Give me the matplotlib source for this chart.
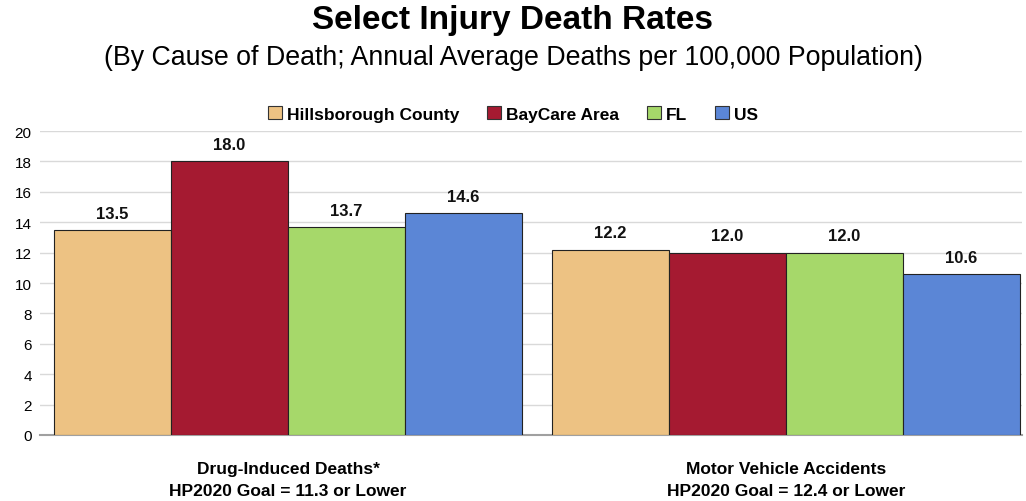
import matplotlib.pyplot as plt
import numpy as np
from matplotlib.patches import Patch

categories = ["Drug-Induced Deaths*\nHP2020 Goal = 11.3 or Lower",
              "Motor Vehicle Accidents\nHP2020 Goal = 12.4 or Lower"]
series = ["Hillsborough County", "BayCare Area", "FL", "US"]
hillsborough = [13.5, 12.2]
baycare = [18.0, 12.0]
fl = [13.7, 12.0]
us = [14.6, 10.6]
colors = ["#EDC283", "#A51A31", "#A6D86A", "#5B86D6"]

fonts = ["Liberation Sans Narrow", "Liberation Sans", "DejaVu Sans"]
plt.rcParams['font.family'] = fonts

fig = plt.figure(figsize=(10.26, 5.02), dpi=100)
ax = fig.add_axes([40/1026, 1-436/502, 982/1026, 304/502])

x = np.arange(len(categories))
w = 0.235
values = [hillsborough, baycare, fl, us]
for i, (name, vals, c) in enumerate(zip(series, values, colors)):
    pos = x + (i - 1.5) * w
    bars = ax.bar(pos, vals, width=w, color=c, edgecolor="#222222", linewidth=0.8, zorder=3)
    for b, v in zip(bars, vals):
        ax.text(b.get_x() + b.get_width()/2, v + 0.6, f"{v:.1f}", ha="center", va="bottom",
                fontsize=12, fontweight="bold", color="#111111")

ax.set_xlim(-0.498, 1.474)
ax.set_ylim(0, 20)
ax.set_yticks(range(0, 21, 2))
ax.tick_params(axis="y", length=0, labelsize=11, pad=6)
ax.tick_params(axis="x", length=0, pad=19)
ax.set_xticks(x)
ax.set_xticklabels(categories, fontsize=12.5, fontweight="bold", linespacing=1.55)
ax.grid(axis="y", color="#D9D9D9", linewidth=1, zorder=0)
for s in ["top", "right", "left"]:
    ax.spines[s].set_visible(False)
ax.spines["bottom"].set_color("#A0A0A0")
ax.spines["bottom"].set_linewidth(1.5)

handles = [Patch(facecolor=c, edgecolor="#333333", linewidth=0.8) for c in colors]
fig.legend(handles, series, loc="center", bbox_to_anchor=(0.5, 1-115/502), ncol=4,
           frameon=False, prop={"family": fonts, "weight": "bold", "size": 12.5},
           handlelength=0.8, handleheight=0.8, handletextpad=0.3, columnspacing=1.6)

fig.text(0.5, 1-21/502, "Select Injury Death Rates", ha="center", va="center",
         fontsize=24, fontweight="bold", family=["Liberation Sans", "DejaVu Sans"])
fig.text(0.5, 1-58/502, "(By Cause of Death; Annual Average Deaths per 100,000 Population)",
         ha="center", va="center", fontsize=19.3, family=["Liberation Sans", "DejaVu Sans"])

fig.savefig("out.png", dpi=100)
